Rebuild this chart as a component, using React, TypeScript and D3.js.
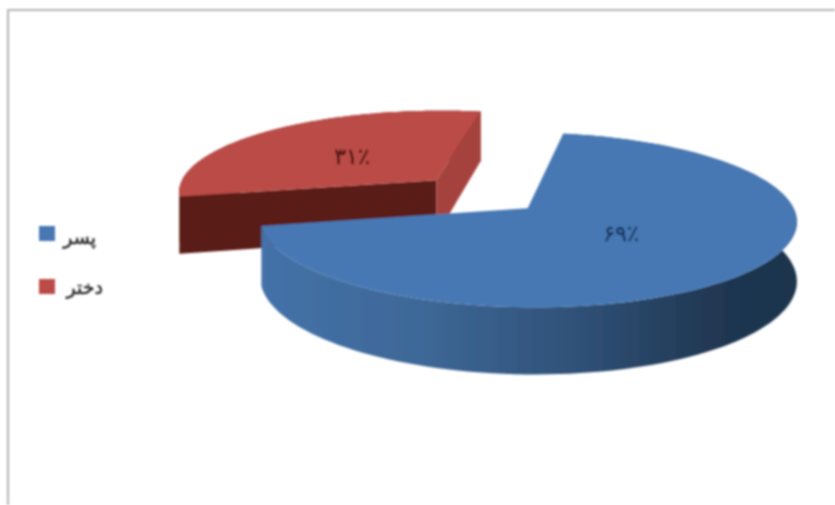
import React from "react";
import * as d3 from "d3";

const categories = ["پسر", "دختر"];
const shares = [69, 31];
const valueLabels = ["۶۹٪", "۳۱٪"];
const topColors = ["#4678b4", "#bb4b46"];
const legendColors = ["#4678b4", "#bb4b46"];

const W = 835, H = 505;
const cx = 481, cy = 194, R = 260, S = 82, P = 0.13, EXPLODE = 0.245, DEPTH = 57;
const START = 10 * Math.PI / 180;

type Pt = [number, number];

function project(X: number, Y: number, z: number): Pt {
  const w = 1 - P * Y;
  return [cx + (R * X) / w, cy + (S * Y) / w + (z * DEPTH) / w];
}

export default function App() {
  const arcs = d3.pie<number>().sort(null).startAngle(START).endAngle(START + 2 * Math.PI)(shares);
  const line = d3.line();

  const slices = arcs.map((a) => {
    const mid = (a.startAngle + a.endAngle) / 2;
    const ox = Math.sin(mid) * EXPLODE;
    const oy = -Math.cos(mid) * EXPLODE;
    const pt = (t: number, z: number) => project(ox + Math.sin(t), oy - Math.cos(t), z);
    const ts = d3.range(0, 121).map((i) => a.startAngle + ((a.endAngle - a.startAngle) * i) / 120);
    const apexTop = project(ox, oy, 0);
    const apexBot = project(ox, oy, 1);
    const topArc = ts.map((t) => pt(t, 0));
    const botArc = ts.map((t) => pt(t, 1));
    return {
      top: line([apexTop, ...topArc])! + "Z",
      wall: line([...topArc, ...botArc.slice().reverse()])! + "Z",
      sideStart: line([apexTop, topArc[0], botArc[0], apexBot])! + "Z",
      sideEnd: line([apexTop, topArc[120], botArc[120], apexBot])! + "Z",
    };
  });

  const [blue, red] = slices;

  return (
    <svg width={W} height={H} style={{ position: "absolute", left: 0, top: 0 }} fontFamily="'DejaVu Sans'">
      <defs>
        <filter id="soft" x="-5%" y="-5%" width="110%" height="110%">
          <feGaussianBlur stdDeviation="0.9" />
        </filter>
        <linearGradient id="blueWall" gradientUnits="userSpaceOnUse" x1="260" x2="797" y1="0" y2="0">
          <stop offset="0" stopColor="#4472a9" />
          <stop offset="0.3" stopColor="#3e6897" />
          <stop offset="0.6" stopColor="#2f5076" />
          <stop offset="0.85" stopColor="#203752" />
          <stop offset="1" stopColor="#1e344e" />
        </linearGradient>
      </defs>
      <rect width={W} height={H} fill="#fff" />
      <g filter="url(#soft)">
        <path d="M8,505V10H835" fill="none" stroke="#b4b4b4" strokeWidth={2} />
        <path d={red.wall} fill="#5a1a15" />
        <path d={red.sideStart} fill="#5a1a15" />
        <path d={red.sideEnd} fill="#a5423d" />
        <path d={red.top} fill={topColors[1]} />
        <path d={blue.wall} fill="url(#blueWall)" />
        <path d={blue.top} fill={topColors[0]} />
        <text x={621} y={241} fontSize={22} stroke="#17365d" strokeWidth={0.5} fill="#17365d" textAnchor="middle">{valueLabels[0]}</text>
        <text x={352} y={164} fontSize={22} stroke="#4a100c" strokeWidth={0.5} fill="#4a100c" textAnchor="middle">{valueLabels[1]}</text>
        {categories.map((c, i) => (
          <g key={c}>
            <rect x={39} y={226 + i * 53} width={16} height={15} fill={legendColors[i]} />
            <text x={96 + i * 7} y={244 + i * 50} fontSize={19} stroke="#222" strokeWidth={0.4} fill="#222" textAnchor="end">{c}</text>
          </g>
        ))}
      </g>
    </svg>
  );
}
